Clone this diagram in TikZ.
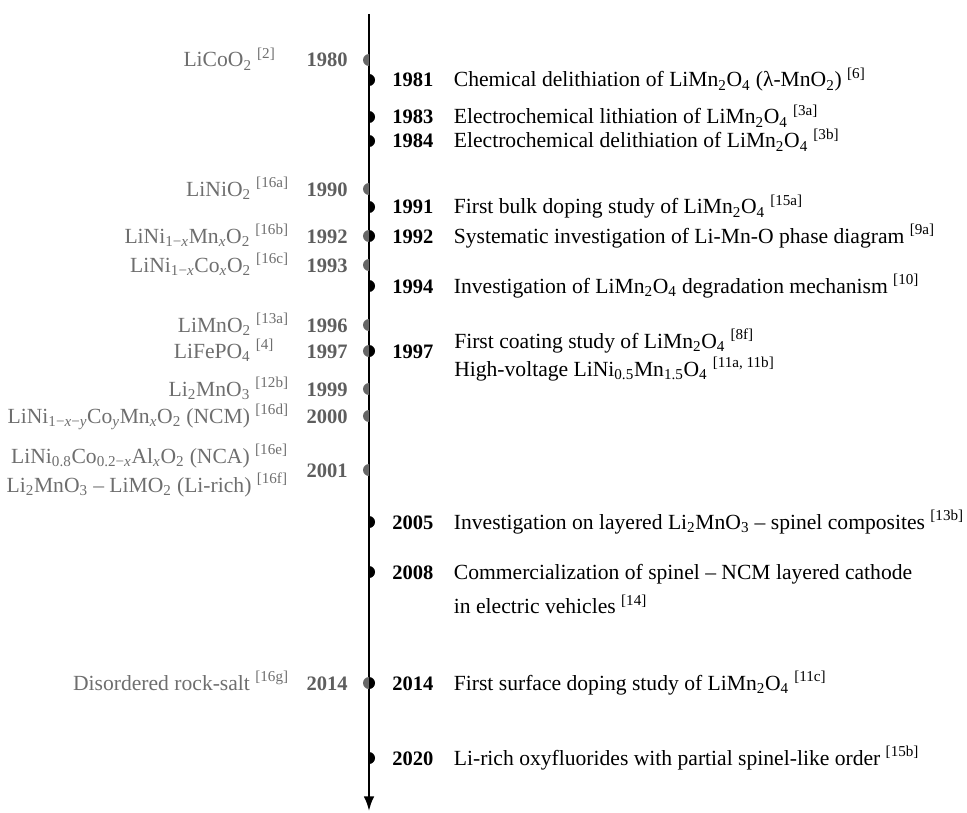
\documentclass[tikz,border=0pt]{standalone}
\usepackage{fontspec}
\setmainfont{Liberation Serif}
\usetikzlibrary{arrows.meta,positioning}

\definecolor{leftgray}{HTML}{6E6E6E}
\definecolor{yeargray}{HTML}{5E5E5E}
\definecolor{markgray}{HTML}{666666}

\newcommand\sbs[1]{\textsubscript{#1}}
\newcommand\refno[1]{\textsuperscript{[#1]}}

\tikzset{
  yearL/.style={anchor=base east, inner sep=0pt, text=yeargray,
    font=\fontsize{15.4}{18}\selectfont\bfseries},
  yearR/.style={anchor=base west, inner sep=0pt,
    font=\fontsize{15.4}{18}\selectfont\bfseries},
  compL/.style={inner sep=0pt, text=leftgray},
  evtR/.style={inner sep=0pt}
}

\begin{document}
\begin{tikzpicture}[x=0.75pt,y=0.75pt,font=\fontsize{16.2}{19}\selectfont]
\useasboundingbox (0,0) rectangle (967,-813);

% time axis
\coordinate (top) at (369,-14);
\coordinate (bot) at (369,-811);
\draw [line width=1.6pt, -{Latex[length=11pt,width=8pt]}] (top) -- (bot);

% markers: materials (left) and spinel milestones (right)
\foreach \y in {60,189,236,265,325,351,389,416,470,683}
  \fill [markgray] (369,-\y) ++(0,6) arc[start angle=90,end angle=270,radius=6] -- cycle;
\foreach \y in {80,117,141,207,236,286,351,522,572,683,758}
  \fill (369,-\y) ++(0,-6) arc[start angle=-90,end angle=90,radius=6] -- cycle;

% left: cathode materials
\node [yearL] (l1980) at (348,-67) {1980};
\node [compL, base left=23pt of l1980] (c1980) {LiCoO\sbs{2} \refno{2}};
\node [yearL] (l1990) at (348,-196) {1990};
\node [compL, base left=13pt of l1990] (c1990) {LiNiO\sbs{2} \refno{16a}};
\node [yearL] (l1992) at (348,-243) {1992};
\node [compL, base left=13pt of l1992] (c1992) {LiNi\sbs{1−\textit{x}}Mn\sbs{\textit{x}}O\sbs{2} \refno{16b}};
\node [yearL] (l1993) at (348,-272) {1993};
\node [compL, base left=13pt of l1993] (c1993) {LiNi\sbs{1−\textit{x}}Co\sbs{\textit{x}}O\sbs{2} \refno{16c}};
\node [yearL] (l1996) at (348,-332) {1996};
\node [compL, base left=13pt of l1996] (c1996) {LiMnO\sbs{2} \refno{13a}};
\node [yearL] (l1997) at (348,-358) {1997};
\node [compL, base left=24pt of l1997] (c1997) {LiFePO\sbs{4} \refno{4}};
\node [yearL] (l1999) at (348,-396) {1999};
\node [compL, base left=13pt of l1999] (c1999) {Li\sbs{2}MnO\sbs{3} \refno{12b}};
\node [yearL] (l2000) at (348,-423) {2000};
\node [compL, base left=13pt of l2000] (c2000) {LiNi\sbs{1−\textit{x}−\textit{y}}Co\sbs{\textit{y}}Mn\sbs{\textit{x}}O\sbs{2} (NCM) \refno{16d}};
\node [yearL] (l2001) at (348,-477) {2001};
\node [compL, anchor=base east] (c2001a) at (288,-463) {LiNi\sbs{0.8}Co\sbs{0.2−\textit{x}}Al\sbs{\textit{x}}O\sbs{2} (NCA) \refno{16e}};
\node [compL, anchor=base east] (c2001b) at (288,-492) {Li\sbs{2}MnO\sbs{3} – LiMO\sbs{2} (Li-rich) \refno{16f}};
\node [yearL] (l2014) at (348,-690) {2014};
\node [compL, base left=13pt of l2014] (c2014) {Disordered rock-salt \refno{16g}};

% right: spinel milestones
\node [yearR] (r1981) at (392,-87) {1981};
\node [evtR, base right=15pt of r1981] (e1981) {Chemical delithiation of LiMn\sbs{2}O\sbs{4} (λ-MnO\sbs{2}) \refno{6}};
\node [yearR] (r1983) at (392,-124) {1983};
\node [evtR, base right=15pt of r1983] (e1983) {Electrochemical lithiation of LiMn\sbs{2}O\sbs{4} \refno{3a}};
\node [yearR] (r1984) at (392,-148) {1984};
\node [evtR, base right=15pt of r1984] (e1984) {Electrochemical delithiation of LiMn\sbs{2}O\sbs{4} \refno{3b}};
\node [yearR] (r1991) at (392,-214) {1991};
\node [evtR, base right=15pt of r1991] (e1991) {First bulk doping study of LiMn\sbs{2}O\sbs{4} \refno{15a}};
\node [yearR] (r1992) at (392,-243) {1992};
\node [evtR, base right=15pt of r1992] (e1992) {Systematic investigation of Li-Mn-O phase diagram \refno{9a}};
\node [yearR] (r1994) at (392,-293) {1994};
\node [evtR, base right=15pt of r1994] (e1994) {Investigation of LiMn\sbs{2}O\sbs{4} degradation mechanism \refno{10}};
\node [yearR] (r1997) at (392,-358) {1997};
\node [evtR, anchor=base west] (e1997a) at (454,-348) {First coating study of LiMn\sbs{2}O\sbs{4} \refno{8f}};
\node [evtR, anchor=base west] (e1997b) at (454,-376) {High-voltage LiNi\sbs{0.5}Mn\sbs{1.5}O\sbs{4} \refno{11a, 11b}};
\node [yearR] (r2005) at (392,-529) {2005};
\node [evtR, base right=15pt of r2005] (e2005) {Investigation on layered Li\sbs{2}MnO\sbs{3} – spinel composites \refno{13b}};
\node [yearR] (r2008) at (392,-579) {2008};
\node [evtR, base right=15pt of r2008] (e2008a) {Commercialization of spinel – NCM layered cathode};
\node [evtR, anchor=base west] (e2008b) at ([yshift=-26]e2008a.base west) {in electric vehicles \refno{14}};
\node [yearR] (r2014) at (392,-690) {2014};
\node [evtR, base right=15pt of r2014] (e2014) {First surface doping study of LiMn\sbs{2}O\sbs{4} \refno{11c}};
\node [yearR] (r2020) at (392,-765) {2020};
\node [evtR, base right=15pt of r2020] (e2020) {Li-rich oxyfluorides with partial spinel-like order \refno{15b}};
\end{tikzpicture}
\end{document}
